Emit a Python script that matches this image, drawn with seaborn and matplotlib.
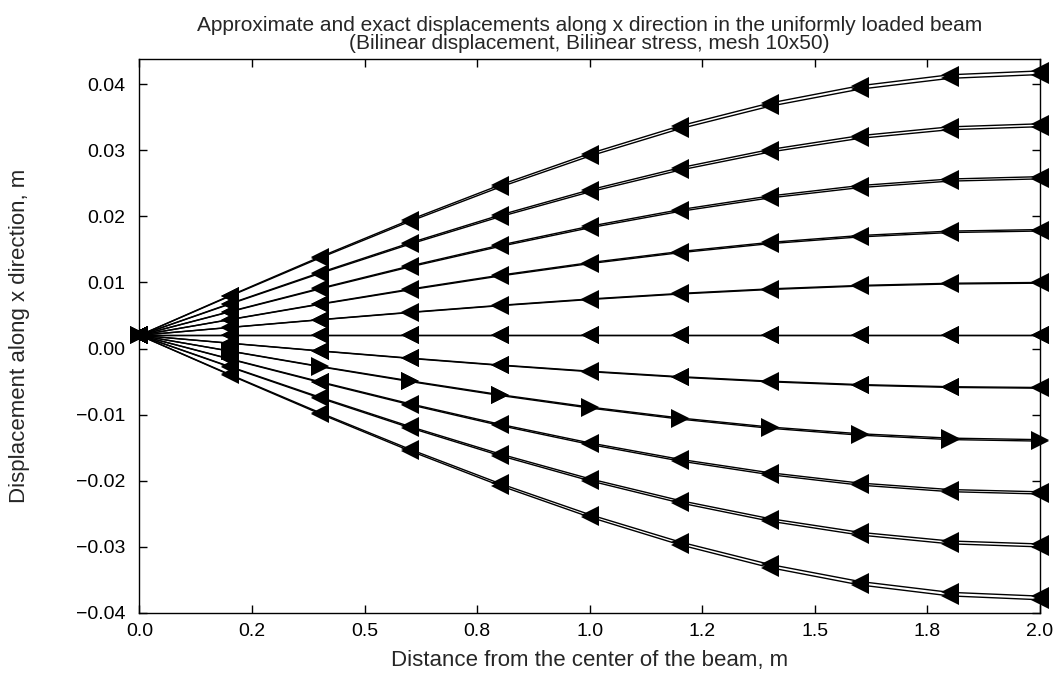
import matplotlib
matplotlib.use("Agg")
import matplotlib.pyplot as plt
import seaborn as sns

# Sampling positions along the beam (m)
x_pos = [0.0, 0.2, 0.4, 0.6, 0.8, 1.0, 1.2, 1.4, 1.6, 1.8, 2.0]

# Exact displacement profiles, one per fibre level through the depth (m)
exact = [
    [0.002, 0.00798, 0.01384, 0.01946, 0.02472, 0.0295, 0.03368, 0.03714, 0.03976, 0.04142, 0.042],
    [0.002, 0.00678, 0.01147, 0.01597, 0.02018, 0.024, 0.02734, 0.03011, 0.03221, 0.03354, 0.034],
    [0.002, 0.00559, 0.0091, 0.01248, 0.01563, 0.0185, 0.02101, 0.02308, 0.02466, 0.02565, 0.026],
    [0.002, 0.00439, 0.00674, 0.00898, 0.01109, 0.013, 0.01467, 0.01606, 0.0171, 0.01777, 0.018],
    [0.002, 0.0032, 0.00437, 0.00549, 0.00654, 0.0075, 0.00834, 0.00903, 0.00955, 0.00988, 0.01],
    [0.002, 0.002, 0.002, 0.002, 0.002, 0.002, 0.002, 0.002, 0.002, 0.002, 0.002],
    [0.002, 0.0008, -0.00037, -0.00149, -0.00254, -0.0035, -0.00434, -0.00503, -0.00555, -0.00588, -0.006],
    [0.002, -0.00039, -0.00274, -0.00498, -0.00709, -0.009, -0.01067, -0.01206, -0.0131, -0.01377, -0.014],
    [0.002, -0.00159, -0.0051, -0.00848, -0.01163, -0.0145, -0.01701, -0.01908, -0.02066, -0.02165, -0.022],
    [0.002, -0.00278, -0.00747, -0.01197, -0.01618, -0.02, -0.02334, -0.02611, -0.02821, -0.02954, -0.03],
    [0.002, -0.00398, -0.00984, -0.01546, -0.02072, -0.0255, -0.02968, -0.03314, -0.03576, -0.03742, -0.038],
]

# Finite element approximation (bilinear displacement, bilinear stress, 10x50 mesh)
approx = [
    [0.002, 0.0079, 0.01368, 0.01922, 0.02441, 0.02912, 0.03325, 0.03666, 0.03924, 0.04088, 0.04145],
    [0.002, 0.00671, 0.01134, 0.01578, 0.01993, 0.0237, 0.02699, 0.02973, 0.0318, 0.03311, 0.03356],
    [0.002, 0.00554, 0.009, 0.01234, 0.01544, 0.01827, 0.02075, 0.02279, 0.02435, 0.02533, 0.02567],
    [0.002, 0.00436, 0.00668, 0.00888, 0.01097, 0.01285, 0.0145, 0.01587, 0.01689, 0.01755, 0.01778],
    [0.002, 0.00318, 0.00434, 0.00544, 0.00648, 0.00742, 0.00825, 0.00893, 0.00945, 0.00977, 0.00989],
    [0.002, 0.002, 0.002, 0.002, 0.002, 0.002, 0.002, 0.002, 0.002, 0.002, 0.002],
    [0.002, 0.00082, -0.00034, -0.00144, -0.00248, -0.00342, -0.00425, -0.00493, -0.00545, -0.00577, -0.00589],
    [0.002, -0.00036, -0.00268, -0.00488, -0.00697, -0.00885, -0.0105, -0.01187, -0.01289, -0.01355, -0.01378],
    [0.002, -0.00154, -0.005, -0.00834, -0.01144, -0.01427, -0.01675, -0.01879, -0.02035, -0.02133, -0.02167],
    [0.002, -0.00271, -0.00734, -0.01178, -0.01593, -0.0197, -0.02299, -0.02573, -0.0278, -0.02911, -0.02956],
    [0.002, -0.0039, -0.00968, -0.01522, -0.02041, -0.02512, -0.02925, -0.03266, -0.03524, -0.03688, -0.03745],
]

# Marker shape for each fibre level
markers = ["<", "<", "<", "<", "<", "<", "<", ">", "<", "<", "<"]

x_ticks = [0.0, 0.25, 0.5, 0.75, 1.0, 1.25, 1.5, 1.75, 2.0]
x_tick_labels = ["0.0", "0.2", "0.5", "0.8", "1.0", "1.2", "1.5", "1.8", "2.0"]
y_ticks = [-0.04, -0.03, -0.02, -0.01, 0.0, 0.01, 0.02, 0.03, 0.04]
y_tick_labels = ["\u22120.04", "\u22120.03", "\u22120.02", "\u22120.01", "0.00",
                 "0.01", "0.02", "0.03", "0.04"]

sns.set_style("ticks")
plt.rcParams["font.family"] = ["Liberation Sans", "DejaVu Sans"]

fig = plt.figure(figsize=(10.6, 6.73), dpi=100)
ax = fig.add_axes([0.1316, 0.0892, 0.9811 - 0.1316, 0.9123 - 0.0892])

for ex, ap, mk in zip(exact, approx, markers):
    for series in (ex, ap):
        sns.lineplot(x=x_pos, y=series, ax=ax, color="black", linewidth=1.0,
                     marker=mk, markersize=13, markeredgewidth=0,
                     markerfacecolor="black", sort=False, legend=False,
                     clip_on=False)

ax.set_xlim(0.0, 2.0)
ax.set_ylim(-0.04, 0.0438)
ax.set_xticks(x_ticks)
ax.set_xticklabels(x_tick_labels)
ax.set_yticks(y_ticks)
ax.set_yticklabels(y_tick_labels)
ax.tick_params(axis="both", direction="in", length=6, width=1, labelsize=14,
               top=True, right=True, colors="black")
ax.tick_params(axis="y", pad=10)
ax.tick_params(axis="x", pad=7)
for s in ax.spines.values():
    s.set_visible(True)
    s.set_color("black")
    s.set_linewidth(1.0)

ax.set_xlabel("Distance from the center of the beam, m", fontsize=16)
ax.set_ylabel("Displacement along x direction, m", fontsize=16)
ax.xaxis.set_label_coords(0.5, -0.066)
ax.yaxis.set_label_coords(-0.122, 0.5)
ax.set_title("Approximate and exact displacements along x direction in the uniformly loaded beam\n"
             "(Bilinear displacement, Bilinear stress, mesh 10x50)",
             fontsize=15, linespacing=0.95, pad=7)

fig.savefig("out.png", dpi=100, facecolor="white")
